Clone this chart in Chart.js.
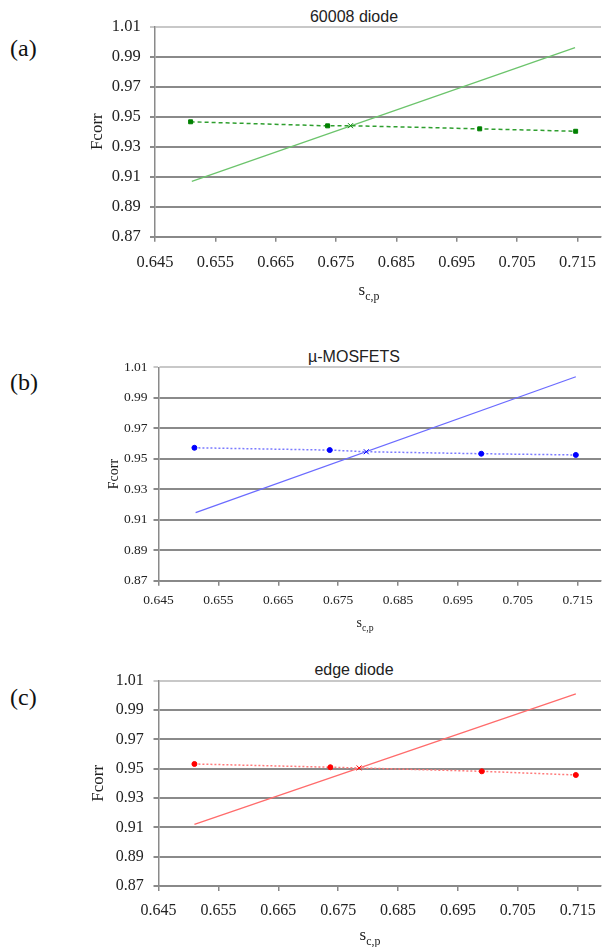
<!DOCTYPE html>
<html>
<head>
<meta charset="utf-8">
<script src="https://cdn.jsdelivr.net/npm/chart.js@4"></script>
<style>
    body { margin: 0; background: #fff; }
    #wrap { position: relative; width: 606px; height: 947px; overflow: hidden; }
    canvas { position: absolute; left: 0; }
    .txt { position: absolute; transform: translate(-50%, -50%); white-space: nowrap; color: #222; }
    .panel { position: absolute; transform: translateY(-50%); font: 24px 'Liberation Serif', serif; color: #111; }
    .ttl { font-family: 'Liberation Sans', Arial, sans-serif; font-size: 16px; }
    .xt { font-family: 'Liberation Serif', serif; }
    .xt sub { font-size: 70%; }
</style>
</head>
<body>
<div id="wrap">
    <div class="panel" style="left:10px;top:48px;">(a)</div>
    <div class="panel" style="left:10px;top:382px;">(b)</div>
    <div class="panel" style="left:10px;top:697px;">(c)</div>

    <div class="txt ttl" style="left:354px;top:17px;">60008 diode</div>
    <div class="txt ttl" style="left:354px;top:357px;">µ-MOSFETS</div>
    <div class="txt ttl" style="left:354px;top:670px;">edge diode</div>

    <canvas id="chartA" width="606" height="305" style="top:0px;"></canvas>
    <canvas id="chartB" width="606" height="310" style="top:320px;"></canvas>
    <canvas id="chartC" width="606" height="307" style="top:640px;"></canvas>

    <div class="txt xt" style="left:369px;top:292px;font-size:17px;">s<sub>c,p</sub></div>
    <div class="txt xt" style="left:365px;top:624px;font-size:14px;">s<sub>c,p</sub></div>
    <div class="txt xt" style="left:370px;top:937px;font-size:17px;">s<sub>c,p</sub></div>
</div>

<script>
// ── Axis ticks ───────────────────────────────────────────────
const xTicks = [0.645, 0.655, 0.665, 0.675, 0.685, 0.695, 0.705, 0.715];
const yTicks = [0.87, 0.89, 0.91, 0.93, 0.95, 0.97, 0.99, 1.01];

// ── (a) 60008 diode ─────────────────────────────────────────
const diodeX    = [0.6509, 0.6736, 0.6774, 0.6988, 0.7147];
const diodeY    = [0.9466, 0.9439, 0.9440, 0.9419, 0.9403];
const diodeFitX = [0.6511, 0.7146];
const diodeFitY = [0.9069, 0.9960];

// ── (b) µ-MOSFETS ───────────────────────────────────────────
const mosfetX    = [0.6510, 0.6736, 0.6797, 0.6989, 0.7147];
const mosfetY    = [0.9572, 0.9557, 0.9546, 0.9533, 0.9525];
const mosfetFitX = [0.6512, 0.7147];
const mosfetFitY = [0.9146, 1.0038];

// ── (c) edge diode ──────────────────────────────────────────
const edgeX    = [0.6510, 0.6737, 0.6785, 0.6990, 0.7147];
const edgeY    = [0.9532, 0.9510, 0.9505, 0.9482, 0.9457];
const edgeFitX = [0.6510, 0.7147];
const edgeFitY = [0.9121, 1.0010];

function zip(xs, ys) {
    return xs.map((x, i) => ({ x, y: ys[i] }));
}

// ── Build one panel ─────────────────────────────────────────
function buildChart(id, p) {
    const styles = p.x.map((v, i) => i === 2 ? 'crossRot' : p.mark);
    const radii  = p.x.map((v, i) => i === 2 ? 3.5 : p.radius);

    return new Chart(document.getElementById(id), {
        type: 'scatter',
        data: {
            datasets: [
                {
                    data: zip(p.x, p.y),
                    showLine: true,
                    borderColor: p.dotColor,
                    borderDash: p.dash,
                    borderWidth: 1.5,
                    pointStyle: styles,
                    pointRadius: radii,
                    pointBorderWidth: 1,
                    pointBackgroundColor: p.markColor,
                    pointBorderColor: p.markColor,
                },
                {
                    data: zip(p.fitX, p.fitY),
                    showLine: true,
                    borderColor: p.fitColor,
                    borderWidth: 1.3,
                    pointRadius: 0,
                }
            ]
        },
        options: {
            responsive: false,
            animation: false,
            layout: { padding: { top: p.top, left: 0, right: 0, bottom: 0 } },
            plugins: {
                legend: { display: false },
                tooltip: { enabled: false },
                title: { display: false }
            },
            scales: {
                x: {
                    type: 'linear',
                    min: 0.645,
                    max: 0.7189,
                    afterBuildTicks: s => { s.ticks = xTicks.map(v => ({ value: v })); },
                    afterFit: s => { s.height = p.xH; s.paddingLeft = 0; s.paddingRight = 0; },
                    ticks: {
                        callback: v => Number(v).toFixed(3),
                        font: { family: 'Liberation Serif', size: p.tickFont },
                        color: '#222',
                        padding: p.xPad,
                        maxRotation: 0,
                        autoSkip: false
                    },
                    grid: { drawOnChartArea: false, drawTicks: true, tickLength: 5, color: '#888', lineWidth: 1.5 },
                    border: { color: '#888', width: 1.5 }
                },
                y: {
                    min: 0.87,
                    max: 1.01,
                    afterBuildTicks: s => { s.ticks = yTicks.map(v => ({ value: v })); },
                    afterFit: s => { s.width = p.yW; s.paddingTop = 0; s.paddingBottom = 0; },
                    ticks: {
                        callback: v => Number(v).toFixed(2),
                        font: { family: 'Liberation Serif', size: p.tickFont },
                        color: '#222',
                        padding: p.yPad
                    },
                    grid: {
                        color: c => (c.tick && c.tick.value === 1.01) ? '#c8c8c8' : '#8a8a8a',
                        lineWidth: 2,
                        tickLength: 5,
                        drawTicks: true
                    },
                    border: { color: '#8a8a8a', width: 1.5 },
                    title: {
                        display: true,
                        text: 'Fcorr',
                        color: '#222',
                        font: { family: 'Liberation Serif', size: p.yTitleFont },
                        padding: { top: p.yTitlePad, bottom: 0 }
                    }
                }
            }
        }
    });
}

// ── Init ─────────────────────────────────────────────────────
buildChart('chartA', {
    x: diodeX, y: diodeY, fitX: diodeFitX, fitY: diodeFitY,
    mark: 'rect', radius: 2.8, dash: [4, 3],
    markColor: '#008000', dotColor: '#2e9e2e', fitColor: '#6cc46c',
    top: 26.7, xH: 68.3, yW: 155, tickFont: 16.5, xPad: 10.7, yPad: 9.3,
    yTitleFont: 17, yTitlePad: 87.8
});

buildChart('chartB', {
    x: mosfetX, y: mosfetY, fitX: mosfetFitX, fitY: mosfetFitY,
    mark: 'circle', radius: 2.5, dash: [2, 2],
    markColor: '#0000ff', dotColor: '#7a7aff', fitColor: '#6b6bff',
    top: 47.3, xH: 49.3, yW: 158.5, tickFont: 13.5, xPad: 6.9, yPad: 6,
    yTitleFont: 14, yTitlePad: 105.6
});

buildChart('chartC', {
    x: edgeX, y: edgeY, fitX: edgeFitX, fitY: edgeFitY,
    mark: 'circle', radius: 2.5, dash: [2, 2],
    markColor: '#ff0000', dotColor: '#ff7a7a', fitColor: '#ff6b6b',
    top: 40.7, xH: 61, yW: 158.5, tickFont: 16, xPad: 10.1, yPad: 9.7,
    yTitleFont: 17, yTitlePad: 88.8
});
</script>
</body>
</html>
